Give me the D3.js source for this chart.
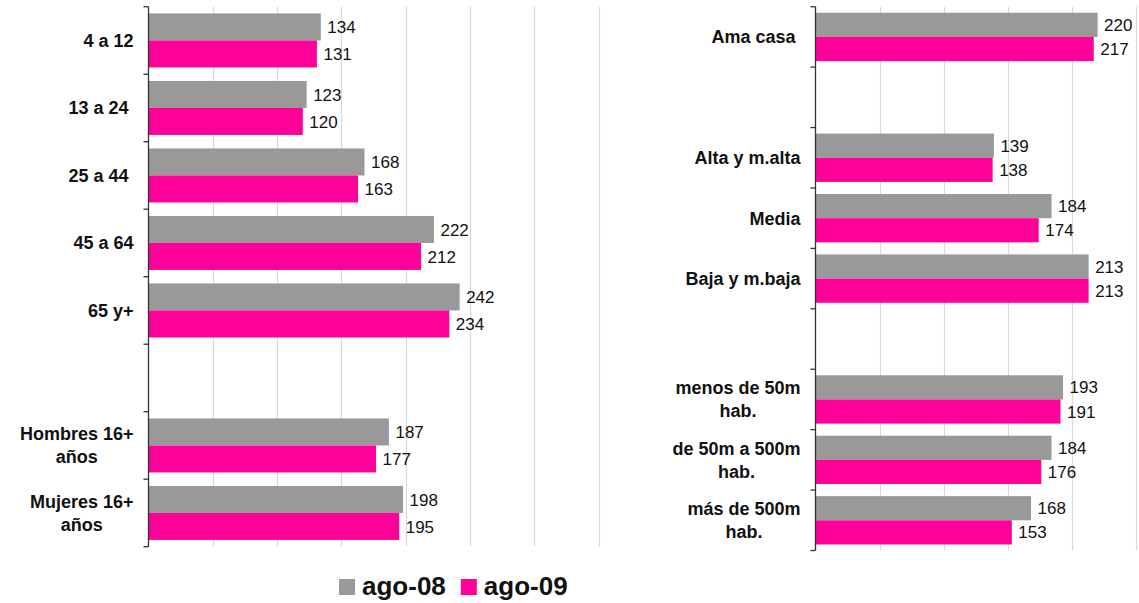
<!DOCTYPE html>
<html>
<head>
<meta charset="utf-8">
<script src="https://cdn.jsdelivr.net/npm/d3@7"></script>
<style>
  html, body { margin: 0; padding: 0; background: #fff; }
  svg { display: block; font-family: "Liberation Sans", Arial, sans-serif; }
</style>
</head>
<body>
<svg id="chart" width="1139" height="603"></svg>
<script>
// ---- data ----
const seriesNames = ["ago-08", "ago-09"];

const leftCategories = ["4 a 12", "13 a 24 ", "25 a 44 ", "45 a 64", "65 y+", "", "Hombres 16+\naños", "Mujeres 16+\naños"];
const leftAgo08 = [134, 123, 168, 222, 242, null, 187, 198];
const leftAgo09 = [131, 120, 163, 212, 234, null, 177, 195];
const leftTicks = [0, 50, 100, 150, 200, 250, 300, 350];

const rightCategories = ["Ama casa ", "", "Alta y m.alta", "Media", "Baja y m.baja", "", "menos de 50m\nhab.", "de 50m a 500m\nhab.", "más de 500m\nhab."];
const rightAgo08 = [220, null, 139, 184, 213, null, 193, 184, 168];
const rightAgo09 = [217, null, 138, 174, 213, null, 191, 176, 153];
const rightTicks = [0, 50, 100, 150, 200, 250];

// ---- style ----
const colors = ["#999999", "#FF0099"];
const gridColor = "#d9d9d9";
const axisColor = "#333333";
const catFont = 18;

const svg = d3.select("#chart");

function drawPanel(cfg) {
  const g = svg.append("g");
  const x = d3.scaleLinear().domain(cfg.domain).range([cfg.x0, cfg.x1]);
  const y = d3.scaleBand().domain(d3.range(cfg.categories.length)).range([cfg.y0, cfg.y1]).padding(0);
  const step = y.step();

  // gridlines
  g.selectAll("line.grid").data(cfg.ticks.filter(t => t > 0)).join("line")
    .attr("x1", d => Math.round(x(d)) + 0.5).attr("x2", d => Math.round(x(d)) + 0.5)
    .attr("y1", cfg.y0).attr("y2", cfg.y1)
    .attr("stroke", gridColor).attr("stroke-width", 1.2);

  // bars
  const rows = cfg.categories.map((c, i) => ({ i, vals: [cfg.s1[i], cfg.s2[i]] }));
  rows.forEach(r => {
    r.vals.forEach((v, k) => {
      if (v == null) return;
      const by = y(r.i) + step * 0.1 + k * step * 0.4;
      const bh = step * 0.4;
      g.append("rect")
        .attr("x", x(0)).attr("y", by)
        .attr("width", x(v) - x(0)).attr("height", bh)
        .attr("fill", colors[k]);
      g.append("text")
        .attr("x", x(v) + 6.5).attr("y", by + bh / 2)
        .attr("dy", "0.36em")
        .attr("font-size", 17).attr("fill", "#111")
        .text(v);
    });
  });

  // vertical axis line + ticks
  const ax = Math.round(x(0)) - 0.5;
  g.append("line").attr("x1", ax).attr("x2", ax).attr("y1", cfg.y0).attr("y2", cfg.y1)
    .attr("stroke", axisColor).attr("stroke-width", 1.3);
  const bounds = d3.range(cfg.categories.length + 1).map(i => cfg.y0 + i * step);
  g.selectAll("line.tick").data(bounds).join("line")
    .attr("x1", ax - 5).attr("x2", ax).attr("y1", d => d).attr("y2", d => d)
    .attr("stroke", axisColor).attr("stroke-width", 1.3);

  // category labels
  cfg.categories.forEach((c, i) => {
    if (!c) return;
    const lines = c.split("\n");
    const cy = y(i) + step / 2;
    const right = ax - 15;
    const lh = 23;
    const t = g.append("text")
      .attr("font-size", catFont).attr("font-weight", "bold").attr("fill", "#111")
      .style("white-space", "pre");
    if (lines.length === 1) {
      t.attr("x", right).attr("y", cy).attr("dy", "0.36em").attr("text-anchor", "end").text(lines[0]);
    } else {
      const widths = lines.map(l => {
        const tmp = g.append("text").attr("font-size", catFont).attr("font-weight", "bold").text(l);
        const w = tmp.node().getComputedTextLength();
        tmp.remove();
        return w;
      });
      const W = d3.max(widths);
      const cx = right - W / 2;
      t.attr("text-anchor", "middle");
      lines.forEach((l, j) => {
        t.append("tspan").attr("x", cx)
          .attr("y", cy + (j - (lines.length - 1) / 2) * lh)
          .attr("dy", "0.36em").text(l);
      });
    }
  });
}

drawPanel({
  categories: leftCategories, s1: leftAgo08, s2: leftAgo09, ticks: leftTicks,
  domain: [0, 350], x0: 148.5, x1: 598.5, y0: 6.7, y1: 546.7
});
drawPanel({
  categories: rightCategories, s1: rightAgo08, s2: rightAgo09, ticks: rightTicks,
  domain: [0, 250], x0: 816, x1: 1136, y0: 6.7, y1: 550.5
});

// legend
const legend = svg.append("g");
let lx = 339;
seriesNames.forEach((name, k) => {
  legend.append("rect").attr("x", lx).attr("y", 579).attr("width", 16).attr("height", 16).attr("fill", colors[k]);
  const t = legend.append("text").attr("x", lx + 23).attr("y", 595)
    .attr("font-size", 26).attr("font-weight", "bold").attr("fill", "#111").text(name);
  lx = lx + 23 + t.node().getComputedTextLength() + 15;
});
</script>
</body>
</html>
